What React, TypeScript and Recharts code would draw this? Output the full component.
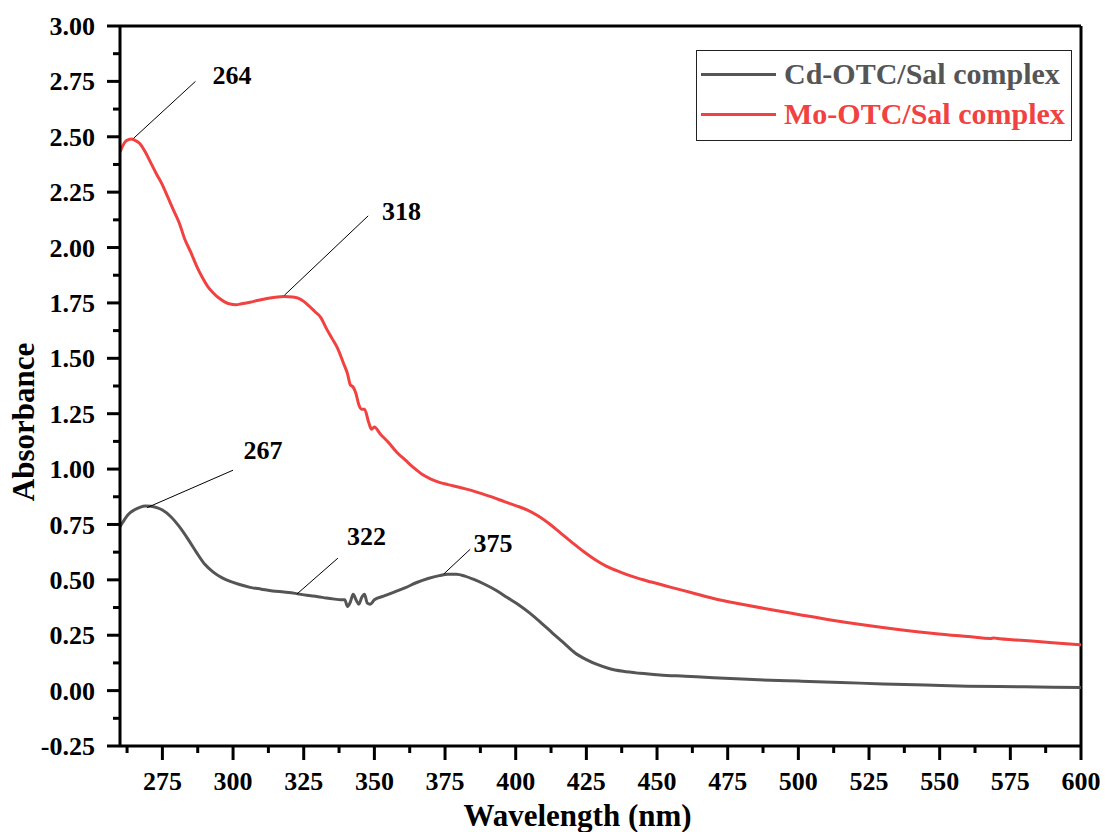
import { LineChart, Line, XAxis, YAxis, ReferenceLine, ReferenceDot } from "recharts";

const FONT = '"Liberation Serif", "Times New Roman", Times, serif';
const CD_COLOR = "#555555";
const MO_COLOR = "#F24141";

// Cd-OTC/Sal complex
const cdWavelength = [
  260, 261, 263, 265, 267, 269, 271, 273, 275, 278, 281, 284, 287, 290, 293, 296, 299, 302, 306, 310,
  314, 318, 322, 326, 330, 333, 336, 338, 339.5, 340.5, 341.5, 342.5, 343.5, 344.5, 345.5, 346.5,
  347.5, 348.5, 350, 353, 357, 361, 365, 369, 373, 376, 379, 382, 385, 389, 393, 397, 401, 405, 409,
  413, 417, 421, 425, 429, 433, 438, 444, 451, 460, 470, 480, 490, 500, 515, 530, 545, 560, 580, 600,
];
const cdAbsorbance = [
  0.74, 0.76, 0.796, 0.815, 0.827, 0.833, 0.832, 0.826, 0.815, 0.785, 0.74, 0.685, 0.625, 0.57, 0.535,
  0.51, 0.493, 0.48, 0.466, 0.458, 0.45, 0.445, 0.439, 0.43, 0.424, 0.418, 0.413, 0.41, 0.41, 0.38,
  0.4, 0.435, 0.41, 0.39, 0.42, 0.435, 0.395, 0.39, 0.41, 0.425, 0.445, 0.465, 0.488, 0.506, 0.519,
  0.525, 0.525, 0.517, 0.503, 0.48, 0.453, 0.42, 0.388, 0.35, 0.306, 0.26, 0.215, 0.17, 0.14, 0.117,
  0.1, 0.087, 0.078, 0.071, 0.065, 0.058, 0.052, 0.047, 0.043, 0.037, 0.03, 0.025, 0.02, 0.017, 0.014,
];

// Mo-OTC/Sal complex
const moWavelength = [
  260, 261, 262, 263, 264, 265, 267, 269, 271, 273, 275, 277, 279, 281, 283, 285, 287, 289, 291, 293,
  295, 297, 299, 301, 303, 306, 309, 312, 315, 318, 321, 323, 325, 327, 329, 331, 333, 335, 337, 339,
  340.5, 341.5, 342.5, 343.5, 344.5, 345.5, 346.5, 348, 349, 350, 352, 355, 358, 361, 364, 367, 370,
  373, 376, 380, 384, 388, 392, 396, 400, 404, 408, 412, 416, 420, 424, 428, 432, 437, 442, 448, 455,
  462, 470, 480, 490, 500, 512, 524, 536, 548, 560, 568, 569, 570, 580, 590, 600,
];
const moAbsorbance = [
  2.43, 2.46, 2.48, 2.487, 2.49, 2.486, 2.47, 2.43, 2.38, 2.33, 2.283, 2.225, 2.167, 2.11, 2.035, 1.98,
  1.92, 1.868, 1.825, 1.795, 1.772, 1.755, 1.745, 1.742, 1.746, 1.753, 1.762, 1.77, 1.776, 1.779,
  1.777, 1.772, 1.757, 1.735, 1.71, 1.685, 1.635, 1.59, 1.545, 1.48, 1.43, 1.38, 1.37, 1.34, 1.29,
  1.27, 1.27, 1.21, 1.18, 1.19, 1.16, 1.12, 1.075, 1.04, 1.005, 0.975, 0.955, 0.94, 0.93, 0.918, 0.905,
  0.889, 0.872, 0.853, 0.835, 0.816, 0.788, 0.752, 0.71, 0.668, 0.628, 0.592, 0.562, 0.535, 0.512,
  0.49, 0.466, 0.443, 0.416, 0.39, 0.366, 0.344, 0.318, 0.295, 0.275, 0.258, 0.244, 0.235, 0.238,
  0.236, 0.226, 0.216, 0.207,
];

const seriesNames = ["Cd-OTC/Sal complex", "Mo-OTC/Sal complex"];

// peak annotations: text, point on curve, leader line end, text anchor (data coords)
const peakText = ["264", "318", "267", "322", "375"];
const peakPoint = [[264.8, 2.493], [318.2, 1.785], [269.6, 0.826], [322.6, 0.436], [374.5, 0.526]];
const leaderEnd = [[286.7, 2.75], [347.8, 2.143], [300, 0.995], [337.1, 0.598], [383.9, 0.638]];
const textAt = [[292.7, 2.778], [352.7, 2.167], [303.7, 1.089], [340.3, 0.698], [385.1, 0.668]];

const xTicks = Array.from({ length: 28 }, (_, i) => 262.5 + i * 12.5);
const yTicks = Array.from({ length: 27 }, (_, i) => -0.25 + i * 0.125);

const cdData = cdWavelength.map((wl, i) => ({ wl, abs: cdAbsorbance[i] }));
const moData = moWavelength.map((wl, i) => ({ wl, abs: moAbsorbance[i] }));

const YTick = (props: any) => {
  const { x, y, payload } = props;
  const v = payload.value;
  const major = Math.abs(v * 4 - Math.round(v * 4)) < 1e-6;
  return (
    <g>
      <line x1={x - (major ? 13 : 7)} x2={x} y1={y} y2={y} stroke="#000" strokeWidth={3} />
      {major && (
        <text x={x - 25} y={y} dy="0.35em" textAnchor="end" fontFamily={FONT} fontWeight="bold" fontSize={26} fill="#000">
          {v.toFixed(2)}
        </text>
      )}
    </g>
  );
};

const XTick = (props: any) => {
  const { x, y, payload } = props;
  const v = payload.value;
  const major = Math.abs(v / 25 - Math.round(v / 25)) < 1e-6;
  return (
    <g>
      <line x1={x} x2={x} y1={y} y2={y + (major ? 14 : 7)} stroke="#000" strokeWidth={3} />
      {major && (
        <text x={x} y={y + 44} textAnchor="middle" fontFamily={FONT} fontWeight="bold" fontSize={26} fill="#000">
          {v}
        </text>
      )}
    </g>
  );
};

const XTitle = ({ viewBox }: any) => (
  <text x={viewBox.x + viewBox.width / 2 - 23} y={viewBox.y + 80} textAnchor="middle" fontFamily={FONT} fontWeight="bold" fontSize={31} fill="#000">
    Wavelength (nm)
  </text>
);

const YTitle = ({ viewBox }: any) => {
  const cx = 34;
  const cy = viewBox.y + viewBox.height / 2 + 36;
  return (
    <text x={cx} y={cy} transform={`rotate(-90 ${cx} ${cy})`} textAnchor="middle" fontFamily={FONT} fontWeight="bold" fontSize={31} fill="#000">
      Absorbance
    </text>
  );
};

const LegendBox = () => (
  <div
    style={{
      position: "absolute",
      left: 696,
      top: 50,
      width: 376,
      height: 91,
      boxSizing: "border-box",
      border: "1px solid #222",
      paddingTop: 3,
      fontFamily: FONT,
      fontWeight: "bold",
      fontSize: 30,
      background: "#fff",
    }}
  >
    {seriesNames.map((name, i) => (
      <div key={name} style={{ display: "flex", alignItems: "center", height: 40, color: i === 0 ? CD_COLOR : MO_COLOR }}>
        <div style={{ marginLeft: 4, width: 75, height: 3, background: i === 0 ? CD_COLOR : MO_COLOR }} />
        <span style={{ marginLeft: 8, whiteSpace: "nowrap" }}>{name}</span>
      </div>
    ))}
  </div>
);

export default function App() {
  return (
    <div style={{ position: "absolute", left: 0, top: 0, width: 1105, height: 832, background: "#fff" }}>
      <LineChart width={1105} height={832} margin={{ top: 26, right: 24, bottom: 0, left: 0 }}>
        <XAxis
          type="number"
          dataKey="wl"
          domain={[260, 600]}
          allowDataOverflow
          ticks={xTicks}
          interval={0}
          tickSize={0}
          tickMargin={0}
          tickLine={false}
          tick={<XTick />}
          height={86}
          axisLine={{ stroke: "#000", strokeWidth: 3 }}
          label={<XTitle />}
        />
        <YAxis
          type="number"
          domain={[-0.25, 3]}
          allowDataOverflow
          ticks={yTicks}
          interval={0}
          tickSize={0}
          tickMargin={0}
          tickLine={false}
          tick={<YTick />}
          width={120}
          axisLine={{ stroke: "#000", strokeWidth: 3 }}
          label={<YTitle />}
        />
        <ReferenceLine y={3} stroke="#000" strokeWidth={3} />
        <ReferenceLine x={600} stroke="#000" strokeWidth={3} />
        <Line data={cdData} dataKey="abs" name={seriesNames[0]} type="monotone" stroke={CD_COLOR} strokeWidth={3} dot={false} isAnimationActive={false} />
        <Line data={moData} dataKey="abs" name={seriesNames[1]} type="monotone" stroke={MO_COLOR} strokeWidth={3} dot={false} isAnimationActive={false} />
        {peakText.map((t, i) => (
          <ReferenceLine
            key={`leader-${t}`}
            segment={[
              { x: peakPoint[i][0], y: peakPoint[i][1] },
              { x: leaderEnd[i][0], y: leaderEnd[i][1] },
            ]}
            stroke="#000"
            strokeWidth={1}
            ifOverflow="visible"
          />
        ))}
        {peakText.map((t, i) => (
          <ReferenceDot
            key={`label-${t}`}
            x={textAt[i][0]}
            y={textAt[i][1]}
            r={0}
            fill="none"
            stroke="none"
            ifOverflow="visible"
            label={{ value: t, position: "right", offset: 0, fill: "#000", fontSize: 26, fontWeight: "bold", fontFamily: FONT }}
          />
        ))}
      </LineChart>
      <LegendBox />
    </div>
  );
}
